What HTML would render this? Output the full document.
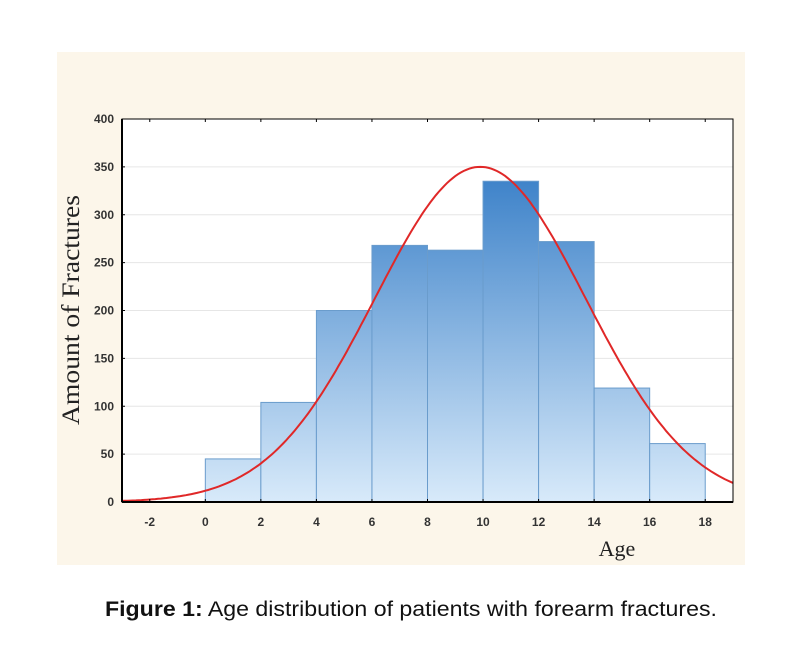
<!DOCTYPE html>
<html><head><meta charset="utf-8"><style>
body{margin:0;background:#fff;width:802px;height:646px;overflow:hidden;font-family:"Liberation Sans",sans-serif}
</style></head><body>
<svg width="802" height="646" xmlns="http://www.w3.org/2000/svg">
<defs><linearGradient id="g" gradientUnits="userSpaceOnUse" x1="0" y1="170" x2="0" y2="502"><stop offset="0" stop-color="#3a80c8"/><stop offset="1" stop-color="#d8eafa"/></linearGradient></defs>
<rect x="57" y="52" width="688" height="513" fill="#fcf6ea"/>
<rect x="122" y="119" width="611" height="383" fill="#fff"/>
<g id="grid"></g><g id="bars"></g><g id="curve"></g><g id="axes"></g>
<text x="0" y="0" transform="translate(79,310) rotate(-90)" text-anchor="middle" font-family="Liberation Serif,serif" font-size="25" textLength="230" lengthAdjust="spacingAndGlyphs" fill="#222">Amount of Fractures</text>
<text x="617" y="556" text-anchor="middle" font-family="Liberation Serif,serif" font-size="22" fill="#222">Age</text>
<text x="411" y="616" text-anchor="middle" font-size="21" textLength="612" lengthAdjust="spacingAndGlyphs" fill="#111"><tspan font-weight="bold">Figure 1:</tspan> Age distribution of patients with forearm fractures.</text>
</svg>
<script>
const binStarts=[0,2,4,6,8,10,12,14,16];
const binCounts=[45,104,200,268,263,335,272,119,61];
const xTicks=[-2,0,2,4,6,8,10,12,14,16,18];
const yTicks=[0,50,100,150,200,250,300,350,400];
const fitMean=[9.9],fitSd=[3.8],fitPeak=[350];
const binWidth=2;
const X0=122,X1=733,Y0=502,Y1=119,xmin=-3,xmax=19,ymax=400;
const sx=v=>X0+(v-xmin)/(xmax-xmin)*(X1-X0);
const sy=v=>Y0-v/ymax*(Y0-Y1);
const NS="http://www.w3.org/2000/svg";
function mk(t,a,p){const e=document.createElementNS(NS,t);for(const k in a)e.setAttribute(k,a[k]);p.appendChild(e);return e;}
const grid=document.getElementById('grid'),bars=document.getElementById('bars'),curve=document.getElementById('curve'),axes=document.getElementById('axes');
yTicks.forEach(v=>{if(v>0&&v<ymax){const l=mk('line',{x1:X0,x2:X1,y1:sy(v),y2:sy(v),stroke:'#e6e6e6','stroke-width':1},grid);

}
const t=mk('text',{x:X0-8,y:sy(v)+4,'text-anchor':'end','font-size':12,'font-weight':'bold',fill:'#333'},axes);t.textContent=v;


const tk=mk('line',{x1:X0,x2:X0+3,y1:sy(v),y2:sy(v),stroke:'#000'},axes);

});
binStarts.forEach((s,i)=>{const r=mk('rect',{x:sx(s),y:sy(binCounts[i]),width:sx(s+binWidth)-sx(s),height:Y0-sy(binCounts[i]),fill:'url(#g)',stroke:'#6a9ccc','stroke-width':1},bars);

});
let d='';for(let x=xmin;x<=xmax+0.001;x+=0.1){const y=fitPeak[0]*Math.exp(-Math.pow(x-fitMean[0],2)/(2*fitSd[0]*fitSd[0]));d+=(d?'L':'M')+sx(x).toFixed(1)+','+sy(y).toFixed(1);}
const p=mk('path',{d:d,fill:'none',stroke:'#e02828','stroke-width':2},curve);


xTicks.forEach(v=>{const t=mk('text',{x:sx(v),y:Y0+24,'text-anchor':'middle','font-size':12,'font-weight':'bold',fill:'#333'},axes);t.textContent=v;


const a=mk('line',{x1:sx(v),x2:sx(v),y1:Y0,y2:Y0-3,stroke:'#000'},axes);


const b=mk('line',{x1:sx(v),x2:sx(v),y1:Y1,y2:Y1+3,stroke:'#000'},axes);

});
const f=mk('rect',{x:X0,y:Y1,width:X1-X0,height:Y0-Y1,fill:'none',stroke:'#000','stroke-width':1},axes);


const la=mk('line',{x1:X0,x2:X0,y1:Y1,y2:Y0,stroke:'#000','stroke-width':2},axes);


const ba=mk('line',{x1:X0,x2:X1,y1:Y0,y2:Y0,stroke:'#000','stroke-width':2},axes);


</script>
</body></html>
